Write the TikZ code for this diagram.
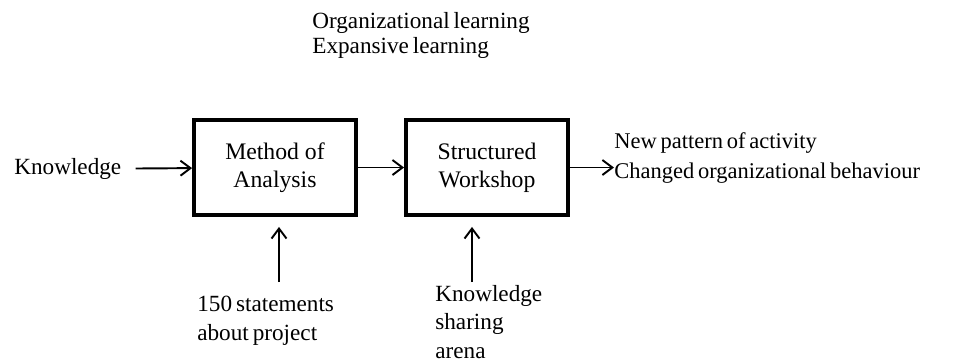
\documentclass[tikz,border=0pt]{standalone}
\usepackage{fontspec}
\setmainfont{Liberation Serif}
\usetikzlibrary{arrows.meta,positioning}
\newcommand{\apretado}{\spaceskip 0.17em\relax}

\begin{document}
\begin{tikzpicture}[x=0.02cm,y=-0.02cm,
  caja/.style={draw,line width=2.2pt,minimum width=3.24cm,minimum height=1.90cm,align=center,font=\fontsize{13.5}{16}\selectfont},
  texto/.style={align=left,inner sep=0pt,font=\fontsize{13.2}{16}\selectfont\apretado},
  flecha/.style={-{Straight Barb[length=0.2cm,width=0.3cm]},line width=1.1pt}]
 \useasboundingbox (0,0) rectangle (978,363);
 % bloques
 \node[caja] (moa) at (275,167.5) {Method of\\Analysis};
 \node[caja] (sw) at (487,167.5) {Structured\\Workshop};
 % entradas y salidas (base = ultima linea)
 \node[texto,anchor=west] (know) at (14,169) {Knowledge};
 \node[texto,anchor=west,font=\fontsize{12.8}{17}\selectfont\apretado] (out) at (614,158) {New pattern of activity\\Changed organizational behaviour};
 \node[texto,anchor=base west] (stat) at (197,340) {150 statements\\about project};
 \node[texto,anchor=base west] (ksa) at (435,358) {Knowledge\\sharing\\arena};
 \node[texto,anchor=base west,font=\fontsize{13.2}{14.2}\selectfont\apretado] (learn) at (312,53) {Organizational learning\\Expansive learning};
 % flechas
 \draw[flecha,shorten <=8pt] (know) -- (moa);
 \draw[flecha] (moa) -- (sw);
 \draw[flecha] (sw) -- (sw -| out.west);
 \coordinate (s1) at (279,282);
 \coordinate (s2) at (472,282);
 \draw[flecha,shorten >=5.7pt] (s1) -- (s1 |- moa.south);
 \draw[flecha,shorten >=5.7pt] (s2) -- (s2 |- sw.south);
\end{tikzpicture}
\end{document}
